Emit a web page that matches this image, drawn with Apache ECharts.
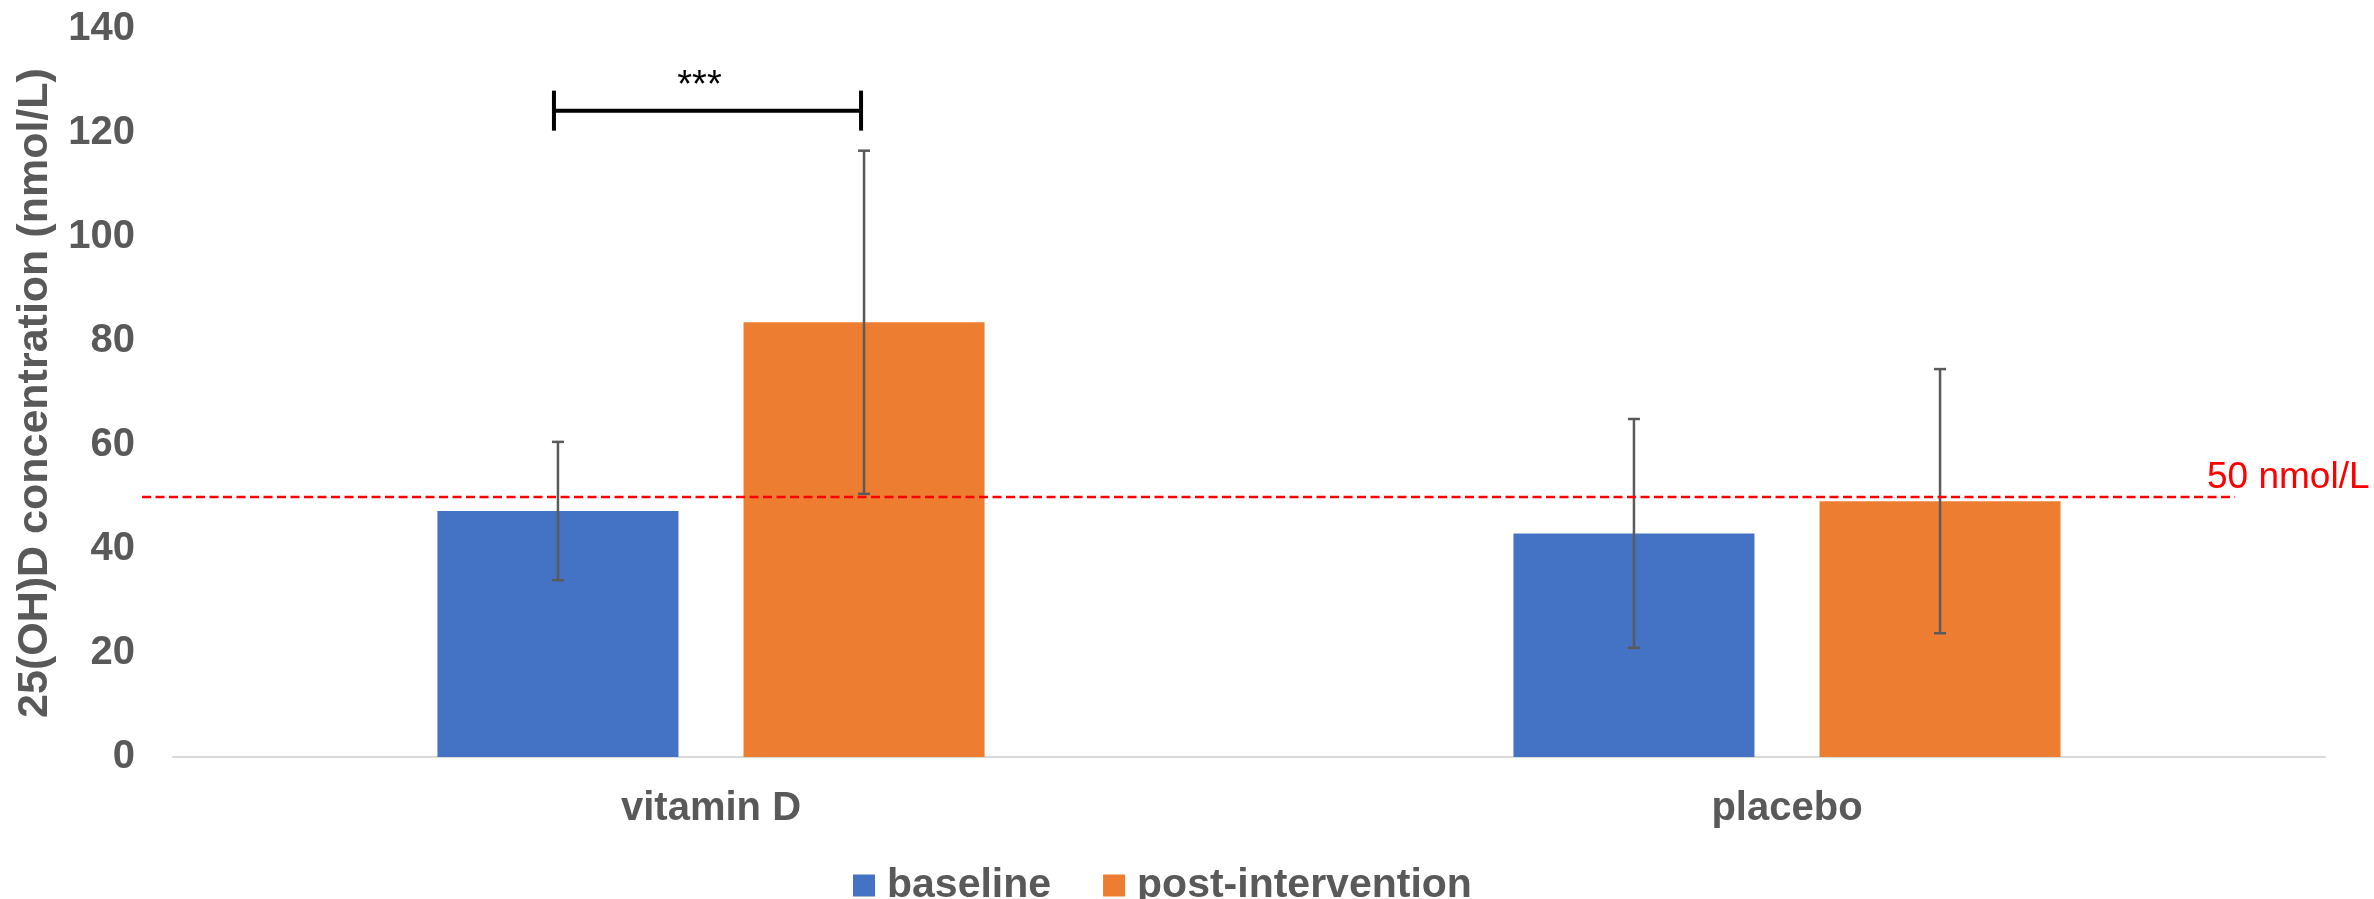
<!DOCTYPE html>
<html>
<head>
<meta charset="utf-8">
<script src="https://cdn.jsdelivr.net/npm/echarts@6/dist/echarts.min.js"></script>
<style>
  html, body { margin: 0; padding: 0; background: #ffffff; }
  #chart { width: 2374px; height: 899px; }
</style>
</head>
<body>
<div id="chart"></div>
<script>
// Serum 25(OH)D, mean ± SD, by group and time point
const categories = ['vitamin D', 'placebo'];
const seriesNames = ['baseline', 'post-intervention'];
const baselineMean = [47.3, 43.0];
const baselineSD = [13.3, 22.0];
const postMean = [83.6, 49.2];
const postSD = [33.0, 25.4];

// value axis ticks
const yMin = 0;
const yMax = 140;
const yStep = 20;
const yTitle = '25(OH)D concentration (nmol/L)';

// sufficiency threshold
const thresholdValue = 50;
const thresholdLabel = '50 nmol/L';

// significance bracket between baseline and post in the vitamin D group
const sigCategory = 0;
const sigLevel = 124.3;
const sigText = '***';

const FONT = "'Liberation Sans', Arial, Helvetica, sans-serif";
const TEXT_GREY = '#595959';
const BLUE = '#4472C4';
const ORANGE = '#ED7D31';
const BAR_FRAC = 0.224;   // bar width as a share of the category band
const GAP_FRAC = 0.27;    // gap between bars as a share of bar width

function barOffset(coordSys, seriesIdx) {
  const band = coordSys.width / categories.length;
  const bw = band * BAR_FRAC;
  const half = (bw + bw * GAP_FRAC) / 2;
  return seriesIdx === 0 ? -half : half;
}

function errorBarRenderer(seriesIdx) {
  return function (params, api) {
    const cat = api.value(0);
    const mean = api.value(1);
    const sd = api.value(2);
    const dx = barOffset(params.coordSys, seriesIdx);
    const hi = api.coord([cat, mean + sd]);
    const lo = api.coord([cat, mean - sd]);
    const x = hi[0] + dx;
    const cap = 6;
    const style = { stroke: '#5a5a5a', lineWidth: 2.5 };
    return {
      type: 'group',
      children: [
        { type: 'line', shape: { x1: x, y1: hi[1], x2: x, y2: lo[1] }, style },
        { type: 'line', shape: { x1: x - cap, y1: hi[1], x2: x + cap, y2: hi[1] }, style },
        { type: 'line', shape: { x1: x - cap, y1: lo[1], x2: x + cap, y2: lo[1] }, style }
      ]
    };
  };
}

const baselineErr = categories.map((c, i) => [i, baselineMean[i], baselineSD[i]]);
const postErr = categories.map((c, i) => [i, postMean[i], postSD[i]]);

const chart = echarts.init(document.getElementById('chart'), null, { renderer: 'canvas' });

chart.setOption({
  animation: false,
  backgroundColor: '#ffffff',
  grid: { left: 173, right: 49, top: 29, bottom: 142, containLabel: false, outerBoundsMode: 'none' },
  legend: {
    data: seriesNames,
    left: 848,
    top: 860,
    icon: 'rect',
    itemWidth: 22,
    itemHeight: 22,
    itemGap: 52,
    textStyle: { fontFamily: FONT, fontSize: 41, fontWeight: 'bold', color: TEXT_GREY, padding: [0, 0, 0, 7] }
  },
  xAxis: {
    type: 'category',
    data: categories,
    axisLine: { lineStyle: { color: '#d9d9d9', width: 2 } },
    axisTick: { show: false },
    axisLabel: { fontFamily: FONT, fontSize: 40, fontWeight: 'bold', color: TEXT_GREY, margin: 32 }
  },
  yAxis: {
    type: 'value',
    min: yMin,
    max: yMax,
    interval: yStep,
    name: yTitle,
    nameLocation: 'middle',
    nameGap: 116,
    nameTextStyle: { fontFamily: FONT, fontSize: 43, fontWeight: 'bold', color: TEXT_GREY },
    axisLine: { show: false },
    axisTick: { show: false },
    splitLine: { show: false },
    axisLabel: { fontFamily: FONT, fontSize: 40, fontWeight: 'bold', color: TEXT_GREY, margin: 38 }
  },
  series: [
    {
      name: seriesNames[0],
      type: 'bar',
      data: baselineMean,
      barWidth: (BAR_FRAC * 100) + '%',
      barGap: (GAP_FRAC * 100) + '%',
      itemStyle: { color: BLUE }
    },
    {
      name: seriesNames[1],
      type: 'bar',
      data: postMean,
      barWidth: (BAR_FRAC * 100) + '%',
      barGap: (GAP_FRAC * 100) + '%',
      itemStyle: { color: ORANGE }
    },
    {
      type: 'custom',
      name: 'baseline SD',
      data: baselineErr,
      renderItem: errorBarRenderer(0),
      encode: { x: 0, y: [1, 2] },
      z: 5,
      silent: true
    },
    {
      type: 'custom',
      name: 'post SD',
      data: postErr,
      renderItem: errorBarRenderer(1),
      encode: { x: 0, y: [1, 2] },
      z: 5,
      silent: true
    },
    {
      // dashed threshold line with its label
      type: 'custom',
      name: 'threshold',
      data: [[0, thresholdValue]],
      clip: false,
      z: 6,
      silent: true,
      renderItem: function (params, api) {
        const cs = params.coordSys;
        const y = api.coord([0, api.value(1)])[1];
        const x1 = cs.x - 31;
        const x2 = cs.x + cs.width - 90;
        return {
          type: 'group',
          children: [
            {
              type: 'line',
              shape: { x1: x1, y1: y, x2: x2, y2: y },
              style: { stroke: '#FF0000', lineWidth: 2.5, lineDash: [9, 4.5] }
            },
            {
              type: 'text',
              x: x2 - 28,
              y: y - 1,
              style: {
                text: thresholdLabel,
                fill: '#FF0000',
                fontSize: 37,
                fontFamily: FONT,
                align: 'left',
                verticalAlign: 'bottom'
              }
            }
          ]
        };
      }
    },
    {
      // significance bracket
      type: 'custom',
      name: 'significance',
      data: [[sigCategory, sigLevel]],
      clip: false,
      z: 6,
      silent: true,
      renderItem: function (params, api) {
        const cs = params.coordSys;
        const p = api.coord([api.value(0), api.value(1)]);
        const xa = p[0] + barOffset(cs, 0) - 4;
        const xb = p[0] + barOffset(cs, 1) - 3;
        const y = p[1];
        const tick = 20;
        const style = { stroke: '#000000', lineWidth: 4 };
        return {
          type: 'group',
          children: [
            { type: 'line', shape: { x1: xa, y1: y, x2: xb, y2: y }, style },
            { type: 'line', shape: { x1: xa, y1: y - tick, x2: xa, y2: y + tick }, style },
            { type: 'line', shape: { x1: xb, y1: y - tick, x2: xb, y2: y + tick }, style },
            {
              type: 'text',
              x: (xa + xb) / 2 - 8,
              y: y - 5,
              style: {
                text: sigText,
                fill: '#000000',
                fontSize: 38,
                fontFamily: FONT,
                align: 'center',
                verticalAlign: 'bottom'
              }
            }
          ]
        };
      }
    }
  ]
});
</script>
</body>
</html>
